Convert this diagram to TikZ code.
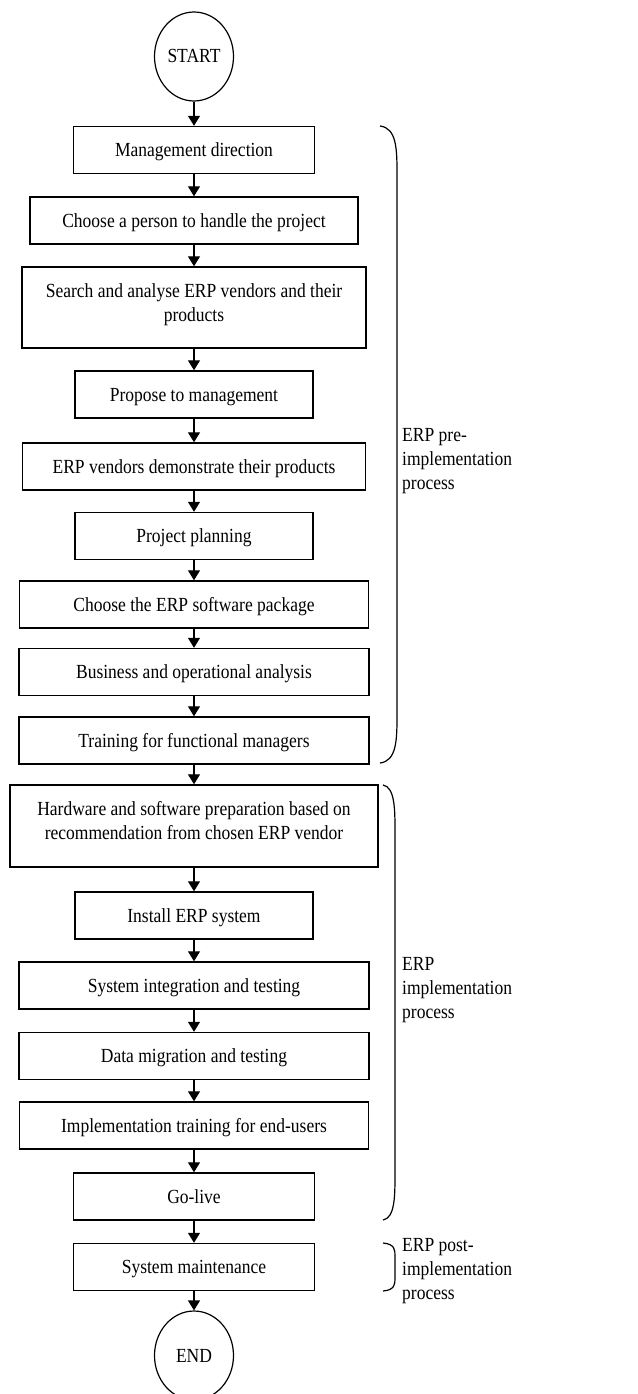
\documentclass[tikz,border=0pt]{standalone}
\usepackage{fontspec}
\setmainfont{Liberation Serif}[FakeStretch=0.875]
\usetikzlibrary{shapes.geometric,arrows.meta}

\begin{document}
\begin{tikzpicture}[x=1pt,y=-1pt]
\tikzstyle{every node}=[font=\fontsize{20}{24}\selectfont];
\tikzstyle{stepbox}=[draw,line width=1.4pt,rectangle,minimum height=47pt,inner xsep=0pt,inner ysep=17pt,text height=13pt,text depth=0pt];
\tikzstyle{term}=[draw,line width=1.2pt,ellipse,minimum width=79pt,minimum height=89pt,inner sep=0pt,text height=13pt,text depth=0pt];
\tikzstyle{phase}=[anchor=base west,inner sep=0pt];

\useasboundingbox (0,0) rectangle (637,1394);

  \node[term] (s) at (194,56.5) {START};

  \node[stepbox,minimum width=241pt] (p1) at (194,150) {Management direction};
  \node[stepbox,minimum width=328pt] (p2) at (194,220.5) {Choose a person to handle the project};
  \node[stepbox,minimum width=344pt,text depth=34pt] (p3) at (194,307.5) {\parbox[t]{340pt}{\centering Search and analyse ERP vendors and their\\products}};
  \node[stepbox,minimum width=238pt] (p4) at (194,394.5) {Propose to management};
  \node[stepbox,minimum width=343pt] (p5) at (194,466.5) {ERP vendors demonstrate their products};
  \node[stepbox,minimum width=238pt] (p6) at (194,536) {Project planning};
  \node[stepbox,minimum width=349pt] (p7) at (194,604.5) {Choose the ERP software package};
  \node[stepbox,minimum width=350pt] (p8) at (194,672) {Business and operational analysis};
  \node[stepbox,minimum width=350pt] (p9) at (194,740.5) {Training for functional managers};

  \node[stepbox,minimum width=368pt,text depth=35pt] (p10) at (194,826) {\parbox[t]{364pt}{\centering Hardware and software preparation based on\\recommendation from chosen ERP vendor}};
  \node[stepbox,minimum width=238pt] (p11) at (194,915.5) {Install ERP system};
  \node[stepbox,minimum width=350pt] (p12) at (194,985.5) {System integration and testing};
  \node[stepbox,minimum width=350pt] (p13) at (194,1056) {Data migration and testing};
  \node[stepbox,minimum width=349pt] (p14) at (194,1125.5) {Implementation training for end-users};
  \node[stepbox,minimum width=241pt] (p15) at (194,1196.5) {Go-live};

  \node[stepbox,minimum width=241pt] (p16) at (194,1267) {System maintenance};

  \node[term] (e) at (194,1355.5) {END};

\foreach \from/\to in {s/p1, p1/p2, p2/p3, p3/p4, p4/p5, p5/p6, p6/p7, p7/p8, p8/p9, p9/p10, p10/p11, p11/p12, p12/p13, p13/p14, p14/p15, p15/p16, p16/e}
\draw [-{Triangle[length=10pt,width=12pt]},line width=1.2pt] (\from) -- (\to);

% brackets for the three phases
\draw[line width=1.2pt] (380,126) .. controls (397,128) and (397,150) .. (397,175) -- (397,714) .. controls (397,739) and (397,761) .. (380,763);
\draw[line width=1.2pt] (383,785) .. controls (395,787) and (395,810) .. (395,832) -- (395,1173) .. controls (395,1196) and (395,1218) .. (383,1220);
\draw[line width=1.2pt] (383,1243) .. controls (395,1244) and (395,1250) .. (395,1256) -- (395,1278) .. controls (395,1284) and (395,1290) .. (383,1291);

  \node[phase] (l1) at (402,441) {\parbox[t]{230pt}{\raggedright ERP pre-\\implementation\\process}};
  \node[phase] (l2) at (402,970.5) {\parbox[t]{230pt}{\raggedright ERP\\implementation\\process}};
  \node[phase] (l3) at (402,1251.5) {\parbox[t]{230pt}{\raggedright ERP post-\\implementation\\process}};

\end{tikzpicture}
\end{document}
